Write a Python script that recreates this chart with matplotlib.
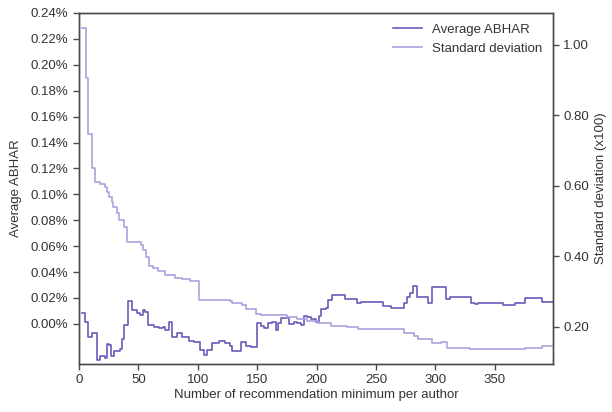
import matplotlib
matplotlib.use("Agg")
import matplotlib.pyplot as plt
from matplotlib.ticker import FuncFormatter

plt.rcParams["font.family"] = ["Liberation Sans", "DejaVu Sans"]

# x breakpoints (min recommendations per author) and ABHAR values in %
abhar_x = [2.8, 5.1, 7.9, 10.7, 13.5, 15, 17.7, 22, 23.9, 25.6, 27, 29.8, 34.6, 36.1,
           38.3, 41.1, 44.5, 48.7, 51.5, 53.5, 55.7, 58, 62.8, 67, 70.4, 72.6, 76,
           78.3, 82.5, 86.7, 92.3, 96.5, 102.2, 105, 108.1, 112, 117.7, 123.3, 127.5,
           129, 136.6, 140.2, 144.4, 149.5, 152.9, 155.7, 159, 162.8, 165.5, 167.5,
           169.8, 176.8, 181, 183.9, 186.7, 189, 192.3, 195.7, 199.3, 202.1, 204.1,
           207.8, 209.7, 213.4, 223.8, 234, 237.3, 255.7, 262.7, 273.9, 276.2, 279,
           281, 284.4, 293.7, 297, 309.1, 311.9, 329.6, 333, 335.9, 357, 366.8,
           375.2, 389.9, 399]
abhar_val = [0.0087, 0.0018, -0.0098, -0.0067, -0.0072, -0.0278, -0.0252, -0.0265,
             -0.0154, -0.0162, -0.0252, -0.0206, -0.0195, -0.0118, -0.0008, 0.0180,
             0.0108, 0.0083, 0.0069, 0.0108, 0.0095, -0.0008, -0.0021, -0.0033,
             -0.0021, -0.0046, 0.0018, -0.0098, -0.0067, -0.0103, -0.0129, -0.0137,
             -0.0201, -0.0239, -0.0201, -0.0149, -0.0129, -0.0149, -0.0170, -0.0213,
             -0.0137, -0.0170, -0.0180, 0.0005, -0.0015, -0.0033, 0.0005, 0.0018,
             -0.0046, 0.0010, 0.0044, 0.0000, 0.0018, 0.0005, -0.0008, 0.0062,
             0.0052, 0.0036, 0.0018, 0.0062, 0.0113, 0.0121, 0.0185, 0.0224, 0.0191,
             0.0164, 0.0172, 0.0134, 0.0121, 0.0160, 0.0206, 0.0237, 0.0293, 0.0206,
             0.0164, 0.0283, 0.0191, 0.0211, 0.0164, 0.0154, 0.0164, 0.0147, 0.0164,
             0.0198, 0.0172, 0.0172]

# standard deviation (x100)
std_x = [2.8, 5.9, 7.9, 10.7, 13.8, 17.7, 22, 23.2, 25.3, 27.6, 29, 31.8, 34, 38.3,
         40.8, 52.1, 54.3, 56.6, 59.1, 62.5, 66.7, 72.6, 81.1, 87, 93.8, 101, 113,
         127.5, 129, 137.4, 140.2, 148.6, 153, 167, 175.4, 183.9, 192.3, 200.8, 212,
         226, 234.5, 262.7, 274, 282.3, 285.2, 297, 305, 310, 328.8, 375.3, 389.4, 399]
std_val = [1.048, 0.907, 0.748, 0.651, 0.612, 0.605, 0.597, 0.583, 0.569, 0.555,
           0.540, 0.524, 0.504, 0.484, 0.440, 0.433, 0.418, 0.399, 0.374, 0.366,
           0.359, 0.348, 0.340, 0.336, 0.331, 0.277, 0.277, 0.274, 0.268, 0.262,
           0.251, 0.238, 0.235, 0.233, 0.229, 0.223, 0.218, 0.212, 0.204, 0.199,
           0.194, 0.193, 0.184, 0.174, 0.165, 0.155, 0.158, 0.140, 0.138, 0.140,
           0.146, 0.146]

dark = "#6a5ab8"
light = "#a9a3de"
spine_col = "#4a4a4a"
text_col = "#333333"
fs = 9.5

fig = plt.figure(figsize=(6.12, 4.12), dpi=100)
ax = fig.add_axes([0.129, 0.1165, 0.7746, 0.852])
ax2 = ax.twinx()

l1, = ax.plot(abhar_x, abhar_val, drawstyle="steps-post", color=dark, lw=1.2,
              label="Average ABHAR")
l2, = ax2.plot(std_x, std_val, drawstyle="steps-post", color=light, lw=1.2,
               label="Standard deviation")

ax.set_xlim(0, 399)
ax.set_ylim(-0.031, 0.24)
ax.set_yticks([i * 0.02 for i in range(13)])
ax.yaxis.set_major_formatter(FuncFormatter(lambda v, p: "%.2f%%" % v))
ax.set_xticks([0, 50, 100, 150, 200, 250, 300, 350])

ax2.set_ylim(0.095, 1.09)
ax2.set_yticks([0.2, 0.4, 0.6, 0.8, 1.0])
ax2.yaxis.set_major_formatter(FuncFormatter(lambda v, p: "%.2f" % v))

for a in (ax, ax2):
    for s in a.spines.values():
        s.set_color(spine_col)
        s.set_linewidth(1.0)
    a.tick_params(colors=spine_col, labelcolor=text_col, labelsize=fs, length=4,
                  width=1, direction="out")

ax.set_xlabel("Number of recommendation minimum per author", fontsize=fs,
              color=text_col, labelpad=2)
ax.set_ylabel("Average ABHAR", fontsize=fs, color=text_col, labelpad=6)
ax2.set_ylabel("Standard deviation (x100)", fontsize=fs, color=text_col, labelpad=4)

ax2.legend(handles=[l1, l2], loc="upper right", frameon=False, fontsize=fs,
           handlelength=2.2, labelcolor=text_col, borderaxespad=0.4)

fig.savefig("out.png", dpi=100)
